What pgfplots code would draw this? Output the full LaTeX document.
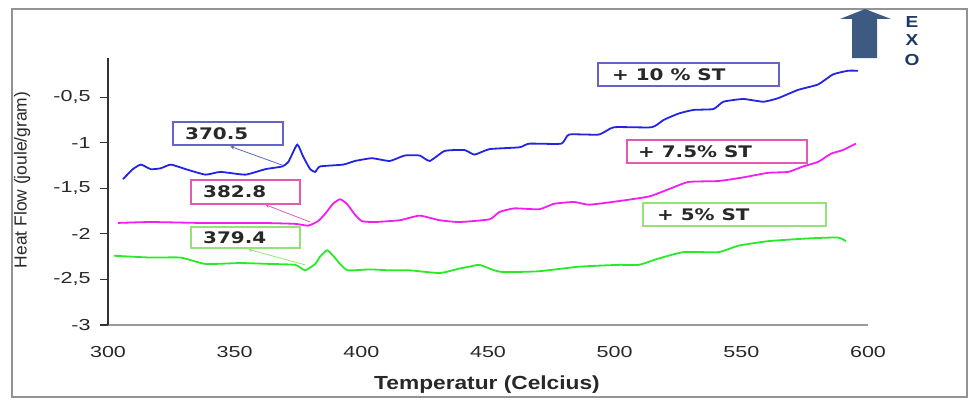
\documentclass[border=0pt]{standalone}
\usepackage{pgfplots}
\pgfplotsset{compat=1.18}
\usepackage{fontspec}
\setmainfont{Liberation Sans}
\newfontfamily\tickfont[FakeStretch=1.35]{Liberation Sans}
\newfontfamily\labfont[FakeStretch=1.2]{Liberation Sans}
\newfontfamily\boxfont[FakeStretch=1.25]{DejaVu Sans}
\definecolor{cblue}{RGB}{35,35,230}
\definecolor{cmag}{RGB}{240,30,240}
\definecolor{cgreen}{RGB}{40,235,40}
\definecolor{bblue}{RGB}{100,100,200}
\definecolor{bmag}{RGB}{225,90,180}
\definecolor{bgreen}{RGB}{150,225,120}
\definecolor{exoarrow}{RGB}{60,90,130}
\definecolor{exotext}{RGB}{30,55,100}
\definecolor{txt}{RGB}{40,40,40}
\begin{document}
\begin{tikzpicture}[x=1bp,y=1bp]
\begin{axis}[
  at={(108bp,74bp)}, anchor=south west,
  scale only axis, width=760bp, height=267bp,
  xmin=300, xmax=600, ymin=-3, ymax=-0.07,
  axis x line=bottom, axis y line=left,
  x axis line style={draw=gray!80, line width=1.4bp, -},
  y axis line style={draw=black!80, line width=1.6bp, -},
  xtick={300,350,400,450,500,550,600},
  xticklabels={300,350,400,450,500,550,600},
  ytick={-3,-2.5,-2,-1.5,-1,-0.5},
  yticklabels={-3,{-2,5},-2,{-1,5},-1,{-0,5}},
  x tick style={draw=none},
  y tick style={draw=black!80, line width=1.2bp},
  tick align=outside, major tick length=8bp,
  ticklabel style={font=\tickfont\fontsize{16}{18}\selectfont, text=txt},
  yticklabel style={xshift=-6bp},
  xticklabel style={yshift=-10bp},
  clip=false,
]
\addplot[cblue, line width=1.8bp, smooth, tension=0.3] table {
305.9 -1.40
309.8 -1.29
313.0 -1.24
316.9 -1.29
320.8 -1.28
324.8 -1.24
330.7 -1.29
338.5 -1.35
344.4 -1.32
354.2 -1.35
362.1 -1.29
368.8 -1.26
371.2 -1.21
374.7 -1.02
377.0 -1.15
379.8 -1.29
381.8 -1.32
383.7 -1.26
392.8 -1.24
397.5 -1.20
404.2 -1.17
411.2 -1.20
417.1 -1.14
423.0 -1.14
427.0 -1.20
432.9 -1.09
440.7 -1.08
444.7 -1.13
450.6 -1.07
462.4 -1.05
466.3 -1.01
478.9 -1.01
482.0 -0.91
493.8 -0.91
499.7 -0.83
514.6 -0.83
519.3 -0.75
525.2 -0.68
531.1 -0.64
539.0 -0.63
542.9 -0.55
550.8 -0.52
558.7 -0.55
564.6 -0.51
572.4 -0.42
580.3 -0.36
586.2 -0.25
592.1 -0.21
596.0 -0.21
};
\addplot[cmag, line width=1.8bp, smooth, tension=0.3] table {
303.9 -1.88
316.9 -1.87
336.6 -1.88
360.1 -1.88
373.9 -1.89
379.0 -1.91
382.9 -1.86
385.7 -1.78
388.8 -1.67
391.6 -1.62
394.3 -1.67
397.5 -1.79
400.2 -1.86
405.3 -1.87
415.2 -1.85
423.0 -1.80
430.9 -1.85
438.8 -1.87
450.6 -1.84
454.5 -1.76
460.4 -1.72
470.2 -1.73
476.1 -1.67
484.0 -1.65
489.9 -1.68
501.7 -1.64
513.5 -1.59
521.3 -1.51
529.2 -1.43
541.0 -1.42
550.8 -1.38
560.6 -1.33
568.5 -1.32
574.4 -1.26
580.3 -1.21
585.4 -1.12
590.1 -1.08
595.2 -1.01
};
\addplot[cgreen, line width=1.8bp, smooth, tension=0.3] table {
302.4 -2.24
316.9 -2.26
328.7 -2.26
338.5 -2.33
352.3 -2.32
364.1 -2.33
373.9 -2.34
377.8 -2.40
381.8 -2.33
383.7 -2.25
386.5 -2.18
389.2 -2.25
391.6 -2.33
394.7 -2.40
403.4 -2.39
411.2 -2.40
419.1 -2.40
430.9 -2.43
438.8 -2.38
442.7 -2.36
446.6 -2.34
452.5 -2.40
456.5 -2.42
470.2 -2.41
485.9 -2.36
501.7 -2.34
509.5 -2.34
517.4 -2.27
527.2 -2.20
541.0 -2.20
548.8 -2.13
560.6 -2.08
576.3 -2.05
588.1 -2.04
591.3 -2.08
};
\draw[bblue, line width=0.8bp, -stealth] (axis cs:369.2,-1.25) -- (axis cs:348.3,-1.04);
\draw[bmag, line width=0.8bp, -stealth] (axis cs:379.8,-1.87) -- (axis cs:362.1,-1.68);
\draw[bgreen, line width=0.8bp, -stealth] (axis cs:377.8,-2.34) -- (axis cs:355.4,-2.17);
\end{axis}
% outer frame
\draw[gray!85, line width=1.6bp] (12,2) rectangle (967,390);
% annotation boxes
\begin{scope}[every node/.style={font=\boxfont\bfseries\fontsize{16}{18}\selectfont, text=txt, anchor=west, inner sep=0pt}]
\draw[bblue, fill=white, line width=1.2bp] (173,254) rectangle (283,277);
\node at (185,265.5) {370.5};
\draw[bmag, fill=white, line width=1.2bp] (191,195) rectangle (300,219);
\node at (203,207) {382.8};
\draw[bgreen, fill=white, line width=1.2bp] (191,151) rectangle (300,172);
\node at (203,161.5) {379.4};
\draw[bblue, fill=white, line width=1.2bp] (598,313) rectangle (779,336);
\node at (612,324.5) {+ 10 \% ST};
\draw[bmag, fill=white, line width=1.2bp] (627,236) rectangle (807,259);
\node at (638,247.5) {+ 7.5\% ST};
\draw[bgreen, fill=white, line width=1.2bp] (643,173) rectangle (826,196);
\node at (657,184.5) {+ 5\% ST};
\end{scope}
% EXO arrow
\fill[exoarrow] (852,341) -- (877,341) -- (877,380) -- (891,380) -- (865,390) -- (840,380) -- (852,380) -- cycle;
\begin{scope}[every node/.style={font=\labfont\bfseries\fontsize{16}{18}\selectfont, text=exotext, inner sep=0pt}]
\node at (912,377) {E};
\node at (912,359) {X};
\node at (912,339) {O};
\end{scope}
% axis labels
\node[font=\labfont\bfseries\fontsize{19}{22}\selectfont, text=txt] at (487,14) {Temperatur (Celcius)};
\node[font=\fontsize{17.5}{20}\selectfont, text=txt, rotate=90] at (22,219) {Heat Flow (joule/gram)};
\pgfresetboundingbox
\path[use as bounding box] (0,0) rectangle (971,399);
\end{tikzpicture}
\end{document}
